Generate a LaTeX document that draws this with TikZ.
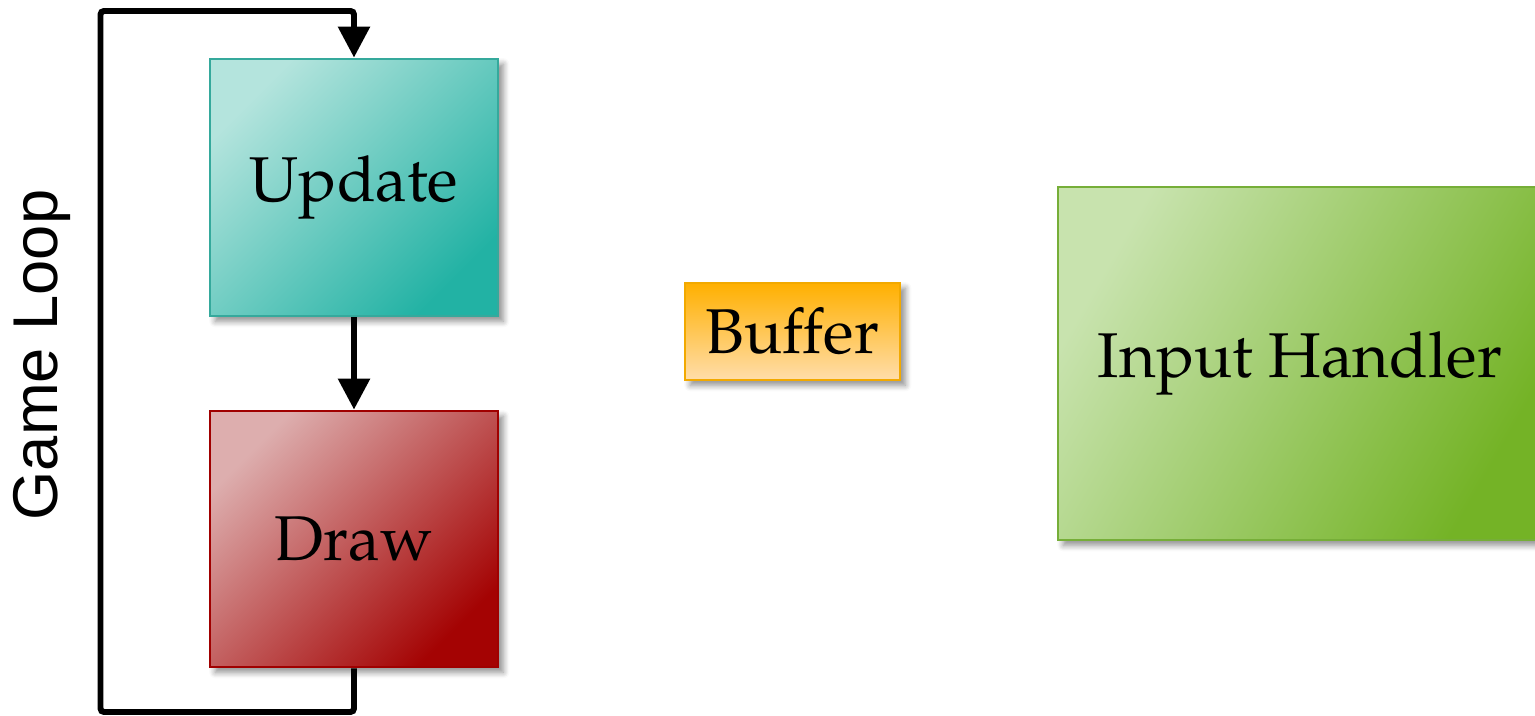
\documentclass[tikz,border=0pt]{standalone}
\usepackage[T1]{fontenc}
\usepackage{fontspec}
\setsansfont{Liberation Sans}
\usepackage{tikz}
\usetikzlibrary{arrows.meta,positioning,shadows.blur}

% Palatino-style face for the box captions
\newcommand{\stagefont}{\fontencoding{T1}\fontfamily{ppl}\fontsize{18}{21}\selectfont}

\definecolor{UpdateLight}{HTML}{B4E4DD}
\definecolor{UpdateDark}{HTML}{22B2A4}
\definecolor{UpdateLine}{HTML}{35A99C}
\definecolor{DrawLight}{HTML}{DDAEAE}
\definecolor{DrawDark}{HTML}{A40303}
\definecolor{DrawLine}{HTML}{A00000}
\definecolor{BufferTop}{HTML}{FFB000}
\definecolor{BufferBottom}{HTML}{FFDDAA}
\definecolor{BufferLine}{HTML}{F2A900}
\definecolor{InputLight}{HTML}{C8E3AE}
\definecolor{InputDark}{HTML}{74B326}
\definecolor{InputLine}{HTML}{76AE38}

\tikzstyle{stage} = [rectangle, draw, line width=0.8pt, inner sep=0pt,
font=\stagefont,
blur shadow={shadow xshift=1.5pt, shadow yshift=-1.5pt,
shadow blur steps=6, shadow opacity=45}]
\tikzstyle{flow} = [draw, black, line width=1.7pt,
-{Triangle[width=8.8pt,length=8.8pt]}]
\tikzset{update/.style={draw=UpdateLine, top color=UpdateLight, bottom color=UpdateDark, shading angle=45}}
\tikzset{drawstage/.style={draw=DrawLine, top color=DrawLight, bottom color=DrawDark, shading angle=45}}
\tikzset{buffer/.style={draw=BufferLine, top color=BufferTop, bottom color=BufferBottom}}
\tikzset{input/.style={draw=InputLine, top color=InputLight, bottom color=InputDark, shading angle=60}}

\begin{document}
\begin{tikzpicture}
	\useasboundingbox (0,0) rectangle (15.35,7.16);

	\node[stage, update, minimum width=2.88cm, minimum height=2.57cm] (update) at (3.54,5.285) {Update};
	\node[stage, drawstage, minimum width=2.88cm, minimum height=2.56cm] (draw) at (3.54,1.77) {Draw};
	\node[stage, buffer, minimum width=2.15cm, minimum height=0.97cm] (buffer) at (7.925,3.845) {Buffer};
	\node[stage, input, minimum width=4.84cm, minimum height=3.53cm] (input) at (13.0,3.525) {Input Handler};

	\node[rotate=90, font=\sffamily\fontsize{18}{21}\selectfont] (loop) at (0.42,3.61) {Game Loop};

	% the loop back from Draw to Update
	\coordinate (loopbl) at (1.005,0.04);
	\coordinate (looptl) at (1.005,7.05);
	\draw[flow] (update) -- (draw);
	\draw[flow, rounded corners=1pt] (draw.south) |- (loopbl) -- (looptl) -| (update.north);
\end{tikzpicture}
\end{document}
